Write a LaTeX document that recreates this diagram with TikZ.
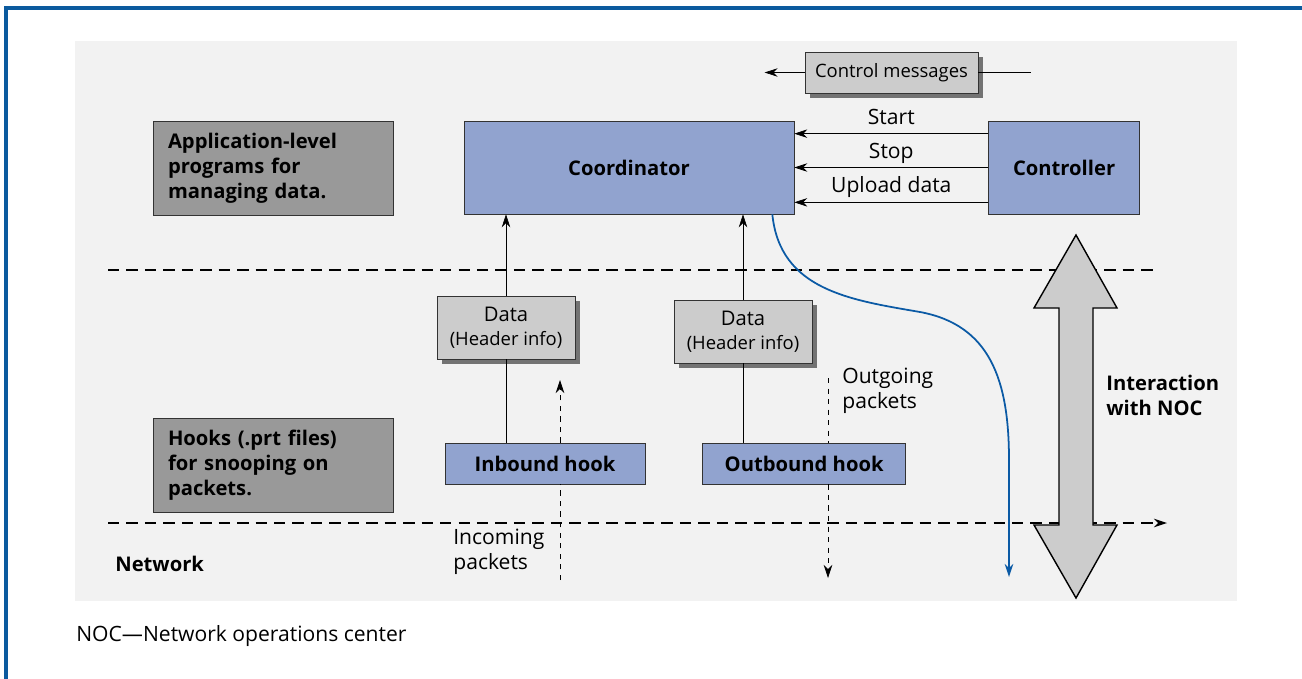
\documentclass[tikz,border=0pt]{standalone}
\usepackage{fontspec}
\setmainfont{Open Sans}
\usetikzlibrary{arrows.meta, positioning, shadows}
\definecolor{framebl}{HTML}{0B5A9E}
\definecolor{panelgray}{HTML}{F2F2F2}
\definecolor{nodeblue}{HTML}{91A3CF}
\definecolor{boxgray}{HTML}{CCCCCC}
\definecolor{labelgray}{HTML}{999999}
\definecolor{curveblue}{HTML}{0B5AA5}

\begin{document}
\begin{tikzpicture}[x=0.02cm, y=-0.02cm, >={Stealth[length=2.6mm,width=1.7mm]},
  every node/.style={font=\fontsize{12}{14.2}\selectfont}]
\tikzstyle{process} = [rectangle, minimum height=1.86cm, text centered, inner sep=0pt, draw=black!80, fill=nodeblue, font=\fontsize{11.5}{14.2}\selectfont\bfseries]
\tikzstyle{hook} = [rectangle, minimum height=0.82cm, text centered, inner sep=0pt, draw=black!80, fill=nodeblue, font=\fontsize{11.5}{14.2}\selectfont\bfseries]
\tikzstyle{layer} = [rectangle, minimum height=1.88cm, text width=4.2cm, inner xsep=0.3cm, align=left, draw=black!80, fill=labelgray, font=\fontsize{11.5}{14.2}\selectfont\bfseries]
\tikzstyle{packet} = [rectangle, text centered, inner sep=0pt, draw=black!80, fill=boxgray, drop shadow={shadow xshift=2.8pt, shadow yshift=-2.8pt, fill=black!55, opacity=1}]
\tikzstyle{plain} = [inner sep=0pt, align=left, anchor=west]
\tikzstyle{cmd} = [midway, above=3pt, inner sep=0pt, text height=1.6ex, text depth=0.4ex]
\tikzstyle{boundary} = [dash pattern=on 6.5pt off 4pt, line width=0.7pt]

\useasboundingbox (0,0) rectangle (1302,679);
\fill[panelgray] (75,41) rectangle (1237,601);
\draw[framebl, line width=2.5pt] (6,679) -- (6,8) -- (1302,8);

% layer boundaries
\draw[boundary] (108,270) -- (1158,270);
\draw[->, boundary] (108,523) -- (1167,523);

% NOC interaction
\draw[fill=boxgray, draw=black, thick] (1076,235) -- (1117,308) -- (1093,308) -- (1093,525) -- (1117,525) -- (1076,598)
  -- (1034,525) -- (1059,525) -- (1059,308) -- (1034,308) -- cycle;

\node (applbl) [layer] at (273,168) {Application-level\\programs for\\managing data.};
\node (hooklbl) [layer] at (273,465) {Hooks (.prt files)\\for snooping on\\packets.};

\node (coord) [process, minimum width=6.6cm] at (629,167.5) {Coordinator};
\node (ctrl) [process, minimum width=3.02cm, right=3.88cm of coord] {Controller};
\node (ctrlmsg) [packet, minimum width=3.46cm, minimum height=0.82cm, font=\fontsize{10.5}{13}\selectfont] at (891.5,72.5) {Control messages};

\node (data1) [packet, minimum width=2.76cm, minimum height=1.26cm, align=center, font=\fontsize{11.5}{13.6}\selectfont] at (506,327.5) {Data\\{\fontsize{10.5}{13.6}\selectfont(Header info)}};
\node (data2) [packet, minimum width=2.76cm, minimum height=1.26cm, align=center, font=\fontsize{11.5}{13.6}\selectfont] at (743,331.5) {Data\\{\fontsize{10.5}{13.6}\selectfont(Header info)}};

\node (inhook) [hook, minimum width=4cm] at (545,463.5) {Inbound hook};
\node (outhook) [hook, minimum width=4.06cm, right=1.14cm of inhook] {Outbound hook};

\node (inlbl) [plain] at (453,552) {Incoming\\packets};
\node (outlbl) [plain] at (842,391) {Outgoing\\packets};
\node (noclbl) [plain, font=\fontsize{11.5}{14.2}\selectfont\bfseries] at (1106,395) {Interaction\\with NOC};
\node (netlbl) [plain, font=\fontsize{11.5}{14.2}\selectfont\bfseries] at (115,564) {Network};
\node (legend) [plain] at (76,636) {NOC---Network operations center};

\coordinate (intop) at (560,380);
\coordinate (inbot) at (560,580);
\coordinate (outtop) at (828,378);
\coordinate (outbot) at (828,578);

% commands from the controller
\draw[->] ([yshift=-0.26cm]ctrl.north west) -- ([yshift=-0.26cm]coord.north east) node[cmd] {Start};
\draw[->] (ctrl.west) -- (ctrl.west -| coord.east) node[cmd] {Stop};
\draw[->] ([yshift=0.24cm]ctrl.south west) -- ([yshift=0.24cm]coord.south east) node[cmd] {Upload data};
\draw (ctrlmsg.east) -- ++(53,0);
\draw[->] (ctrlmsg.west) -- ++(-40,0);

% hooks up to the coordinator
\draw (inhook.north -| data1.south) -- (data1.south);
\draw[->] (data1.north) -- (data1.north |- coord.south);
\draw (outhook.north -| data2.south) -- (data2.south);
\draw[->] (data2.north) -- (data2.north |- coord.south);

% packets
\draw[->, dashed] (inhook.north -| intop) -- (intop);
\draw[dashed] (inbot) -- (inhook.south -| inbot);
\draw[dashed] (outtop) -- (outtop |- outhook.north);
\draw[->, dashed] (outtop |- outhook.south) -- (outbot);

% upload path
\draw[->, curveblue, line width=1pt] ([xshift=-0.44cm]coord.south east) .. controls (780,290) and (850,300) .. (920,312)
  .. controls (990,325) and (1009,380) .. (1009,460) -- (1009,577);

\end{tikzpicture}
\end{document}
